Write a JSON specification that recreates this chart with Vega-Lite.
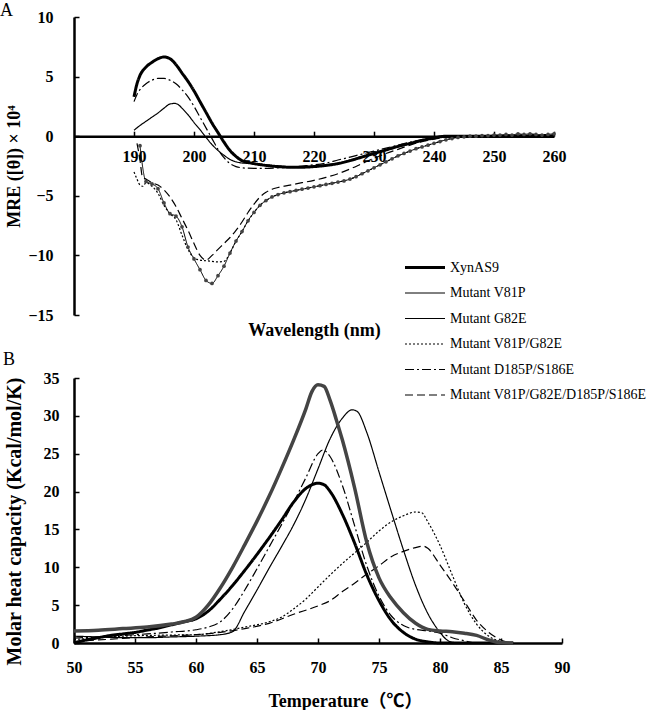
{
  "$schema": "https://vega.github.io/schema/vega-lite/v6.json",
  "padding": {"left": 0, "top": 2, "right": 0, "bottom": 0},
  "bounds": "flush",
  "spacing": 63,
  "config": {
    "view": {"stroke": null},
    "font": "Liberation Serif",
    "axis": {
      "grid": false,
      "domainColor": "black",
      "domainWidth": 2.5,
      "tickColor": "black",
      "tickWidth": 1.5,
      "tickSize": -5,
      "labelColor": "black",
      "labelFont": "Liberation Serif",
      "labelFontWeight": "bold",
      "labelFontSize": 16,
      "labelFlush": false,
      "labelOverlap": false,
      "titleColor": "black",
      "titleFont": "Liberation Serif, Noto Sans CJK SC",
      "titleFontWeight": "bold",
      "titleFontSize": 18
    },
    "title": {"font": "Liberation Serif", "fontWeight": "normal", "fontSize": 18, "color": "black", "anchor": "start", "frame": "group", "baseline": "alphabetic"}
  },
  "datasets": {
    "cd": [
      {"s":"XynAS9","x":190,"y":3.3},{"s":"XynAS9","x":190.5,"y":4.4},{"s":"XynAS9","x":191,"y":5.1},{"s":"XynAS9","x":192,"y":5.8},{"s":"XynAS9","x":193,"y":6.2},{"s":"XynAS9","x":194,"y":6.5},{"s":"XynAS9","x":195,"y":6.65},{"s":"XynAS9","x":196,"y":6.5},{"s":"XynAS9","x":197,"y":6.0},{"s":"XynAS9","x":198,"y":5.3},{"s":"XynAS9","x":199,"y":4.6},{"s":"XynAS9","x":200,"y":3.8},{"s":"XynAS9","x":201,"y":2.9},{"s":"XynAS9","x":202,"y":2.0},{"s":"XynAS9","x":203,"y":1.1},{"s":"XynAS9","x":204,"y":0.3},{"s":"XynAS9","x":205,"y":-0.5},{"s":"XynAS9","x":206,"y":-1.2},{"s":"XynAS9","x":207,"y":-1.7},{"s":"XynAS9","x":208,"y":-2.05},{"s":"XynAS9","x":209,"y":-2.2},{"s":"XynAS9","x":210,"y":-2.3},{"s":"XynAS9","x":212,"y":-2.45},{"s":"XynAS9","x":214,"y":-2.55},{"s":"XynAS9","x":216,"y":-2.6},{"s":"XynAS9","x":218,"y":-2.6},{"s":"XynAS9","x":220,"y":-2.55},{"s":"XynAS9","x":222,"y":-2.45},{"s":"XynAS9","x":224,"y":-2.3},{"s":"XynAS9","x":226,"y":-2.05},{"s":"XynAS9","x":228,"y":-1.75},{"s":"XynAS9","x":230,"y":-1.45},{"s":"XynAS9","x":232,"y":-1.15},{"s":"XynAS9","x":234,"y":-0.85},{"s":"XynAS9","x":236,"y":-0.6},{"s":"XynAS9","x":238,"y":-0.35},{"s":"XynAS9","x":240,"y":-0.15},{"s":"XynAS9","x":242,"y":0},{"s":"XynAS9","x":250,"y":0},{"s":"XynAS9","x":260,"y":0},

      {"s":"Mutant G82E","x":190,"y":0.5},{"s":"Mutant G82E","x":191,"y":0.9},{"s":"Mutant G82E","x":192,"y":1.25},{"s":"Mutant G82E","x":193,"y":1.6},{"s":"Mutant G82E","x":194,"y":1.95},{"s":"Mutant G82E","x":195,"y":2.35},{"s":"Mutant G82E","x":196,"y":2.7},{"s":"Mutant G82E","x":196.8,"y":2.75},{"s":"Mutant G82E","x":197.5,"y":2.6},{"s":"Mutant G82E","x":198,"y":2.35},{"s":"Mutant G82E","x":199,"y":1.8},{"s":"Mutant G82E","x":200,"y":1.15},{"s":"Mutant G82E","x":201,"y":0.55},{"s":"Mutant G82E","x":202,"y":-0.1},{"s":"Mutant G82E","x":203,"y":-0.7},{"s":"Mutant G82E","x":204,"y":-1.2},{"s":"Mutant G82E","x":205,"y":-1.6},{"s":"Mutant G82E","x":206,"y":-1.95},{"s":"Mutant G82E","x":207,"y":-2.15},{"s":"Mutant G82E","x":208,"y":-2.25},{"s":"Mutant G82E","x":210,"y":-2.3},{"s":"Mutant G82E","x":212,"y":-2.4},{"s":"Mutant G82E","x":214,"y":-2.5},{"s":"Mutant G82E","x":216,"y":-2.55},{"s":"Mutant G82E","x":218,"y":-2.55},{"s":"Mutant G82E","x":220,"y":-2.5},{"s":"Mutant G82E","x":222,"y":-2.4},{"s":"Mutant G82E","x":224,"y":-2.25},{"s":"Mutant G82E","x":226,"y":-2.0},{"s":"Mutant G82E","x":228,"y":-1.7},{"s":"Mutant G82E","x":230,"y":-1.45},{"s":"Mutant G82E","x":232,"y":-1.2},{"s":"Mutant G82E","x":234,"y":-0.9},{"s":"Mutant G82E","x":236,"y":-0.65},{"s":"Mutant G82E","x":238,"y":-0.35},{"s":"Mutant G82E","x":240,"y":-0.1},{"s":"Mutant G82E","x":242,"y":0},{"s":"Mutant G82E","x":250,"y":0},{"s":"Mutant G82E","x":260,"y":0},

      {"s":"Mutant D185P/S186E","x":190,"y":2.9},{"s":"Mutant D185P/S186E","x":190.5,"y":3.5},{"s":"Mutant D185P/S186E","x":191,"y":3.9},{"s":"Mutant D185P/S186E","x":192,"y":4.4},{"s":"Mutant D185P/S186E","x":193,"y":4.7},{"s":"Mutant D185P/S186E","x":194,"y":4.85},{"s":"Mutant D185P/S186E","x":195,"y":4.85},{"s":"Mutant D185P/S186E","x":196,"y":4.7},{"s":"Mutant D185P/S186E","x":197,"y":4.4},{"s":"Mutant D185P/S186E","x":198,"y":3.9},{"s":"Mutant D185P/S186E","x":199,"y":3.3},{"s":"Mutant D185P/S186E","x":200,"y":2.5},{"s":"Mutant D185P/S186E","x":201,"y":1.6},{"s":"Mutant D185P/S186E","x":202,"y":0.7},{"s":"Mutant D185P/S186E","x":203,"y":-0.2},{"s":"Mutant D185P/S186E","x":204,"y":-1.1},{"s":"Mutant D185P/S186E","x":205,"y":-1.8},{"s":"Mutant D185P/S186E","x":206,"y":-2.3},{"s":"Mutant D185P/S186E","x":207,"y":-2.55},{"s":"Mutant D185P/S186E","x":208,"y":-2.65},{"s":"Mutant D185P/S186E","x":210,"y":-2.7},{"s":"Mutant D185P/S186E","x":212,"y":-2.7},{"s":"Mutant D185P/S186E","x":214,"y":-2.65},{"s":"Mutant D185P/S186E","x":216,"y":-2.6},{"s":"Mutant D185P/S186E","x":218,"y":-2.5},{"s":"Mutant D185P/S186E","x":220,"y":-2.4},{"s":"Mutant D185P/S186E","x":222,"y":-2.25},{"s":"Mutant D185P/S186E","x":224,"y":-2.0},{"s":"Mutant D185P/S186E","x":226,"y":-1.75},{"s":"Mutant D185P/S186E","x":228,"y":-1.5},{"s":"Mutant D185P/S186E","x":230,"y":-1.25},{"s":"Mutant D185P/S186E","x":232,"y":-1.0},{"s":"Mutant D185P/S186E","x":234,"y":-0.75},{"s":"Mutant D185P/S186E","x":236,"y":-0.5},{"s":"Mutant D185P/S186E","x":238,"y":-0.3},{"s":"Mutant D185P/S186E","x":240,"y":-0.1},{"s":"Mutant D185P/S186E","x":242,"y":0},{"s":"Mutant D185P/S186E","x":250,"y":0},{"s":"Mutant D185P/S186E","x":260,"y":0},

      {"s":"Mutant V81P","x":191,"y":-0.8},{"s":"Mutant V81P","x":192,"y":-3.8},{"s":"Mutant V81P","x":193,"y":-4.0},{"s":"Mutant V81P","x":194,"y":-4.4},{"s":"Mutant V81P","x":195,"y":-5.6},{"s":"Mutant V81P","x":196,"y":-6.5},{"s":"Mutant V81P","x":197,"y":-6.7},{"s":"Mutant V81P","x":198,"y":-7.6},{"s":"Mutant V81P","x":199,"y":-9.3},{"s":"Mutant V81P","x":200,"y":-10.3},{"s":"Mutant V81P","x":201,"y":-11.2},{"s":"Mutant V81P","x":202,"y":-12.1},{"s":"Mutant V81P","x":203,"y":-12.35},{"s":"Mutant V81P","x":204,"y":-11.7},{"s":"Mutant V81P","x":205,"y":-10.9},{"s":"Mutant V81P","x":206,"y":-9.8},{"s":"Mutant V81P","x":207,"y":-8.8},{"s":"Mutant V81P","x":208,"y":-8.0},{"s":"Mutant V81P","x":209,"y":-7.1},{"s":"Mutant V81P","x":210,"y":-6.4},{"s":"Mutant V81P","x":211,"y":-5.8},{"s":"Mutant V81P","x":212,"y":-5.4},{"s":"Mutant V81P","x":213,"y":-5.1},{"s":"Mutant V81P","x":214,"y":-4.9},{"s":"Mutant V81P","x":215,"y":-4.75},{"s":"Mutant V81P","x":216,"y":-4.65},{"s":"Mutant V81P","x":217,"y":-4.55},{"s":"Mutant V81P","x":218,"y":-4.45},{"s":"Mutant V81P","x":219,"y":-4.35},{"s":"Mutant V81P","x":220,"y":-4.25},{"s":"Mutant V81P","x":221,"y":-4.15},{"s":"Mutant V81P","x":222,"y":-4.05},{"s":"Mutant V81P","x":223,"y":-3.95},{"s":"Mutant V81P","x":224,"y":-3.85},{"s":"Mutant V81P","x":225,"y":-3.75},{"s":"Mutant V81P","x":226,"y":-3.6},{"s":"Mutant V81P","x":227,"y":-3.4},{"s":"Mutant V81P","x":228,"y":-3.15},{"s":"Mutant V81P","x":229,"y":-2.9},{"s":"Mutant V81P","x":230,"y":-2.65},{"s":"Mutant V81P","x":231,"y":-2.4},{"s":"Mutant V81P","x":232,"y":-2.15},{"s":"Mutant V81P","x":233,"y":-1.9},{"s":"Mutant V81P","x":234,"y":-1.65},{"s":"Mutant V81P","x":235,"y":-1.45},{"s":"Mutant V81P","x":236,"y":-1.25},{"s":"Mutant V81P","x":237,"y":-1.05},{"s":"Mutant V81P","x":238,"y":-0.9},{"s":"Mutant V81P","x":239,"y":-0.75},{"s":"Mutant V81P","x":240,"y":-0.6},{"s":"Mutant V81P","x":241,"y":-0.45},{"s":"Mutant V81P","x":242,"y":-0.3},{"s":"Mutant V81P","x":243,"y":-0.2},{"s":"Mutant V81P","x":244,"y":-0.1},{"s":"Mutant V81P","x":245,"y":-0.05},{"s":"Mutant V81P","x":246,"y":0},{"s":"Mutant V81P","x":247,"y":0},{"s":"Mutant V81P","x":248,"y":0.05},{"s":"Mutant V81P","x":249,"y":0.05},{"s":"Mutant V81P","x":250,"y":0.1},{"s":"Mutant V81P","x":251,"y":0.1},{"s":"Mutant V81P","x":252,"y":0.15},{"s":"Mutant V81P","x":253,"y":0.1},{"s":"Mutant V81P","x":254,"y":0.2},{"s":"Mutant V81P","x":255,"y":0.15},{"s":"Mutant V81P","x":256,"y":0.2},{"s":"Mutant V81P","x":257,"y":0.15},{"s":"Mutant V81P","x":258,"y":0.1},{"s":"Mutant V81P","x":259,"y":0.15},{"s":"Mutant V81P","x":260,"y":0.2},

      {"s":"Mutant V81P/G82E","x":190,"y":-3.0},{"s":"Mutant V81P/G82E","x":190.5,"y":-3.6},{"s":"Mutant V81P/G82E","x":191,"y":-4.1},{"s":"Mutant V81P/G82E","x":191.5,"y":-4.2},{"s":"Mutant V81P/G82E","x":192,"y":-3.9},{"s":"Mutant V81P/G82E","x":193,"y":-4.2},{"s":"Mutant V81P/G82E","x":194,"y":-4.8},{"s":"Mutant V81P/G82E","x":195,"y":-5.8},{"s":"Mutant V81P/G82E","x":196,"y":-6.5},{"s":"Mutant V81P/G82E","x":197,"y":-7.0},{"s":"Mutant V81P/G82E","x":198,"y":-8.3},{"s":"Mutant V81P/G82E","x":199,"y":-9.5},{"s":"Mutant V81P/G82E","x":200,"y":-10.2},{"s":"Mutant V81P/G82E","x":201,"y":-10.4},{"s":"Mutant V81P/G82E","x":202,"y":-10.45},{"s":"Mutant V81P/G82E","x":203,"y":-10.5},{"s":"Mutant V81P/G82E","x":204,"y":-10.55},{"s":"Mutant V81P/G82E","x":205,"y":-10.5},{"s":"Mutant V81P/G82E","x":206,"y":-9.8},{"s":"Mutant V81P/G82E","x":207,"y":-8.8},{"s":"Mutant V81P/G82E","x":208,"y":-8.0},{"s":"Mutant V81P/G82E","x":209,"y":-7.1},{"s":"Mutant V81P/G82E","x":210,"y":-6.4},{"s":"Mutant V81P/G82E","x":211,"y":-5.8},{"s":"Mutant V81P/G82E","x":212,"y":-5.4},{"s":"Mutant V81P/G82E","x":213,"y":-5.1},{"s":"Mutant V81P/G82E","x":214,"y":-4.9},{"s":"Mutant V81P/G82E","x":216,"y":-4.65},{"s":"Mutant V81P/G82E","x":218,"y":-4.45},{"s":"Mutant V81P/G82E","x":220,"y":-4.25},{"s":"Mutant V81P/G82E","x":222,"y":-4.05},{"s":"Mutant V81P/G82E","x":224,"y":-3.85},{"s":"Mutant V81P/G82E","x":226,"y":-3.6},{"s":"Mutant V81P/G82E","x":228,"y":-3.15},{"s":"Mutant V81P/G82E","x":230,"y":-2.65},{"s":"Mutant V81P/G82E","x":232,"y":-2.15},{"s":"Mutant V81P/G82E","x":234,"y":-1.65},{"s":"Mutant V81P/G82E","x":236,"y":-1.25},{"s":"Mutant V81P/G82E","x":238,"y":-0.9},{"s":"Mutant V81P/G82E","x":240,"y":-0.6},{"s":"Mutant V81P/G82E","x":242,"y":-0.3},{"s":"Mutant V81P/G82E","x":244,"y":-0.1},{"s":"Mutant V81P/G82E","x":246,"y":0},{"s":"Mutant V81P/G82E","x":250,"y":0.05},{"s":"Mutant V81P/G82E","x":255,"y":0.1},{"s":"Mutant V81P/G82E","x":260,"y":0.15},

      {"s":"Mutant V81P/G82E/D185P/S186E","x":190.5,"y":-0.6},{"s":"Mutant V81P/G82E/D185P/S186E","x":191,"y":-2.0},{"s":"Mutant V81P/G82E/D185P/S186E","x":191.4,"y":-3.4},{"s":"Mutant V81P/G82E/D185P/S186E","x":192,"y":-3.6},{"s":"Mutant V81P/G82E/D185P/S186E","x":193,"y":-3.9},{"s":"Mutant V81P/G82E/D185P/S186E","x":194,"y":-4.1},{"s":"Mutant V81P/G82E/D185P/S186E","x":195,"y":-4.5},{"s":"Mutant V81P/G82E/D185P/S186E","x":196,"y":-5.1},{"s":"Mutant V81P/G82E/D185P/S186E","x":197,"y":-5.9},{"s":"Mutant V81P/G82E/D185P/S186E","x":198,"y":-6.9},{"s":"Mutant V81P/G82E/D185P/S186E","x":199,"y":-7.9},{"s":"Mutant V81P/G82E/D185P/S186E","x":200,"y":-9.0},{"s":"Mutant V81P/G82E/D185P/S186E","x":201,"y":-10.0},{"s":"Mutant V81P/G82E/D185P/S186E","x":202,"y":-10.4},{"s":"Mutant V81P/G82E/D185P/S186E","x":203,"y":-10.0},{"s":"Mutant V81P/G82E/D185P/S186E","x":204,"y":-9.5},{"s":"Mutant V81P/G82E/D185P/S186E","x":205,"y":-9.0},{"s":"Mutant V81P/G82E/D185P/S186E","x":206,"y":-8.5},{"s":"Mutant V81P/G82E/D185P/S186E","x":207,"y":-7.9},{"s":"Mutant V81P/G82E/D185P/S186E","x":208,"y":-7.2},{"s":"Mutant V81P/G82E/D185P/S186E","x":209,"y":-6.4},{"s":"Mutant V81P/G82E/D185P/S186E","x":210,"y":-5.7},{"s":"Mutant V81P/G82E/D185P/S186E","x":211,"y":-5.1},{"s":"Mutant V81P/G82E/D185P/S186E","x":212,"y":-4.7},{"s":"Mutant V81P/G82E/D185P/S186E","x":213,"y":-4.45},{"s":"Mutant V81P/G82E/D185P/S186E","x":214,"y":-4.3},{"s":"Mutant V81P/G82E/D185P/S186E","x":216,"y":-4.1},{"s":"Mutant V81P/G82E/D185P/S186E","x":218,"y":-3.9},{"s":"Mutant V81P/G82E/D185P/S186E","x":220,"y":-3.7},{"s":"Mutant V81P/G82E/D185P/S186E","x":222,"y":-3.45},{"s":"Mutant V81P/G82E/D185P/S186E","x":224,"y":-3.15},{"s":"Mutant V81P/G82E/D185P/S186E","x":226,"y":-2.75},{"s":"Mutant V81P/G82E/D185P/S186E","x":228,"y":-2.3},{"s":"Mutant V81P/G82E/D185P/S186E","x":230,"y":-1.85},{"s":"Mutant V81P/G82E/D185P/S186E","x":232,"y":-1.45},{"s":"Mutant V81P/G82E/D185P/S186E","x":234,"y":-1.1},{"s":"Mutant V81P/G82E/D185P/S186E","x":236,"y":-0.75},{"s":"Mutant V81P/G82E/D185P/S186E","x":238,"y":-0.45},{"s":"Mutant V81P/G82E/D185P/S186E","x":240,"y":-0.25},{"s":"Mutant V81P/G82E/D185P/S186E","x":242,"y":-0.1},{"s":"Mutant V81P/G82E/D185P/S186E","x":244,"y":0},{"s":"Mutant V81P/G82E/D185P/S186E","x":250,"y":0.05},{"s":"Mutant V81P/G82E/D185P/S186E","x":260,"y":0.1}
    ],
    "dsc": [
      {"s":"XynAS9","x":50,"y":0},{"s":"XynAS9","x":51,"y":0.4},{"s":"XynAS9","x":52,"y":0.7},{"s":"XynAS9","x":53,"y":1.0},{"s":"XynAS9","x":54,"y":1.2},{"s":"XynAS9","x":55,"y":1.4},{"s":"XynAS9","x":56,"y":1.7},{"s":"XynAS9","x":57,"y":2.0},{"s":"XynAS9","x":58,"y":2.4},{"s":"XynAS9","x":59,"y":2.8},{"s":"XynAS9","x":60,"y":3.2},{"s":"XynAS9","x":61,"y":4.2},{"s":"XynAS9","x":62,"y":5.8},{"s":"XynAS9","x":63,"y":7.6},{"s":"XynAS9","x":64,"y":9.6},{"s":"XynAS9","x":65,"y":11.7},{"s":"XynAS9","x":66,"y":13.9},{"s":"XynAS9","x":67,"y":16.2},{"s":"XynAS9","x":68,"y":18.6},{"s":"XynAS9","x":69,"y":20.4},{"s":"XynAS9","x":70,"y":21.1},{"s":"XynAS9","x":70.5,"y":20.9},{"s":"XynAS9","x":71,"y":20.0},{"s":"XynAS9","x":72,"y":17.0},{"s":"XynAS9","x":73,"y":13.2},{"s":"XynAS9","x":74,"y":9.0},{"s":"XynAS9","x":75,"y":5.6},{"s":"XynAS9","x":76,"y":3.0},{"s":"XynAS9","x":77,"y":1.4},{"s":"XynAS9","x":78,"y":0.5},{"s":"XynAS9","x":79,"y":0.15},{"s":"XynAS9","x":80,"y":0},{"s":"XynAS9","x":86,"y":0},

      {"s":"Mutant V81P","x":50,"y":1.6},{"s":"Mutant V81P","x":52,"y":1.7},{"s":"Mutant V81P","x":54,"y":1.9},{"s":"Mutant V81P","x":56,"y":2.1},{"s":"Mutant V81P","x":58,"y":2.5},{"s":"Mutant V81P","x":59,"y":2.8},{"s":"Mutant V81P","x":60,"y":3.4},{"s":"Mutant V81P","x":61,"y":5.0},{"s":"Mutant V81P","x":62,"y":7.3},{"s":"Mutant V81P","x":63,"y":10.0},{"s":"Mutant V81P","x":64,"y":13.0},{"s":"Mutant V81P","x":65,"y":16.1},{"s":"Mutant V81P","x":66,"y":19.4},{"s":"Mutant V81P","x":67,"y":23.0},{"s":"Mutant V81P","x":68,"y":26.8},{"s":"Mutant V81P","x":69,"y":30.9},{"s":"Mutant V81P","x":69.5,"y":33.2},{"s":"Mutant V81P","x":70,"y":34.1},{"s":"Mutant V81P","x":70.5,"y":33.9},{"s":"Mutant V81P","x":71,"y":32.0},{"s":"Mutant V81P","x":71.5,"y":29.5},{"s":"Mutant V81P","x":72,"y":26.8},{"s":"Mutant V81P","x":73,"y":20.5},{"s":"Mutant V81P","x":74,"y":13.3},{"s":"Mutant V81P","x":75,"y":8.6},{"s":"Mutant V81P","x":76,"y":5.9},{"s":"Mutant V81P","x":77,"y":4.0},{"s":"Mutant V81P","x":78,"y":2.6},{"s":"Mutant V81P","x":79,"y":1.8},{"s":"Mutant V81P","x":80,"y":1.6},{"s":"Mutant V81P","x":81,"y":1.5},{"s":"Mutant V81P","x":82,"y":1.3},{"s":"Mutant V81P","x":83,"y":1.0},{"s":"Mutant V81P","x":84,"y":0.4},{"s":"Mutant V81P","x":85,"y":0.05},{"s":"Mutant V81P","x":86,"y":0},

      {"s":"Mutant G82E","x":50,"y":0.9},{"s":"Mutant G82E","x":52,"y":0.8},{"s":"Mutant G82E","x":54,"y":0.7},{"s":"Mutant G82E","x":56,"y":0.7},{"s":"Mutant G82E","x":58,"y":0.8},{"s":"Mutant G82E","x":60,"y":0.9},{"s":"Mutant G82E","x":62,"y":1.1},{"s":"Mutant G82E","x":63,"y":1.5},{"s":"Mutant G82E","x":64,"y":4.2},{"s":"Mutant G82E","x":65,"y":7.0},{"s":"Mutant G82E","x":66,"y":9.9},{"s":"Mutant G82E","x":67,"y":12.7},{"s":"Mutant G82E","x":68,"y":15.6},{"s":"Mutant G82E","x":69,"y":19.0},{"s":"Mutant G82E","x":70,"y":23.0},{"s":"Mutant G82E","x":71,"y":27.0},{"s":"Mutant G82E","x":72,"y":29.7},{"s":"Mutant G82E","x":72.8,"y":30.8},{"s":"Mutant G82E","x":73.2,"y":30.6},{"s":"Mutant G82E","x":74,"y":27.8},{"s":"Mutant G82E","x":75,"y":22.6},{"s":"Mutant G82E","x":76,"y":17.4},{"s":"Mutant G82E","x":77,"y":12.3},{"s":"Mutant G82E","x":78,"y":7.6},{"s":"Mutant G82E","x":79,"y":3.9},{"s":"Mutant G82E","x":80,"y":1.4},{"s":"Mutant G82E","x":80.5,"y":0.5},{"s":"Mutant G82E","x":81,"y":0.1},{"s":"Mutant G82E","x":82,"y":0},{"s":"Mutant G82E","x":86,"y":0},

      {"s":"Mutant V81P/G82E","x":50,"y":0.45},{"s":"Mutant V81P/G82E","x":52,"y":0.7},{"s":"Mutant V81P/G82E","x":54,"y":0.9},{"s":"Mutant V81P/G82E","x":56,"y":1.0},{"s":"Mutant V81P/G82E","x":58,"y":1.05},{"s":"Mutant V81P/G82E","x":60,"y":1.1},{"s":"Mutant V81P/G82E","x":62,"y":1.5},{"s":"Mutant V81P/G82E","x":64,"y":2.1},{"s":"Mutant V81P/G82E","x":66,"y":2.8},{"s":"Mutant V81P/G82E","x":67,"y":3.4},{"s":"Mutant V81P/G82E","x":68,"y":4.5},{"s":"Mutant V81P/G82E","x":69,"y":5.8},{"s":"Mutant V81P/G82E","x":70,"y":7.4},{"s":"Mutant V81P/G82E","x":71,"y":9.0},{"s":"Mutant V81P/G82E","x":72,"y":10.5},{"s":"Mutant V81P/G82E","x":73,"y":11.9},{"s":"Mutant V81P/G82E","x":74,"y":13.3},{"s":"Mutant V81P/G82E","x":75,"y":14.8},{"s":"Mutant V81P/G82E","x":76,"y":16.0},{"s":"Mutant V81P/G82E","x":77,"y":16.8},{"s":"Mutant V81P/G82E","x":78,"y":17.3},{"s":"Mutant V81P/G82E","x":78.5,"y":17.2},{"s":"Mutant V81P/G82E","x":79,"y":16.0},{"s":"Mutant V81P/G82E","x":80,"y":12.9},{"s":"Mutant V81P/G82E","x":81,"y":9.0},{"s":"Mutant V81P/G82E","x":82,"y":5.2},{"s":"Mutant V81P/G82E","x":83,"y":2.5},{"s":"Mutant V81P/G82E","x":84,"y":0.9},{"s":"Mutant V81P/G82E","x":85,"y":0.2},{"s":"Mutant V81P/G82E","x":86,"y":0},

      {"s":"Mutant D185P/S186E","x":50,"y":0.65},{"s":"Mutant D185P/S186E","x":52,"y":0.8},{"s":"Mutant D185P/S186E","x":54,"y":1.0},{"s":"Mutant D185P/S186E","x":56,"y":1.2},{"s":"Mutant D185P/S186E","x":58,"y":1.45},{"s":"Mutant D185P/S186E","x":60,"y":1.75},{"s":"Mutant D185P/S186E","x":61,"y":2.1},{"s":"Mutant D185P/S186E","x":62,"y":2.8},{"s":"Mutant D185P/S186E","x":63,"y":4.5},{"s":"Mutant D185P/S186E","x":64,"y":7.0},{"s":"Mutant D185P/S186E","x":65,"y":9.8},{"s":"Mutant D185P/S186E","x":66,"y":12.7},{"s":"Mutant D185P/S186E","x":67,"y":15.6},{"s":"Mutant D185P/S186E","x":68,"y":18.6},{"s":"Mutant D185P/S186E","x":69,"y":21.8},{"s":"Mutant D185P/S186E","x":70,"y":25.0},{"s":"Mutant D185P/S186E","x":70.4,"y":25.5},{"s":"Mutant D185P/S186E","x":71,"y":24.6},{"s":"Mutant D185P/S186E","x":72,"y":20.8},{"s":"Mutant D185P/S186E","x":73,"y":15.5},{"s":"Mutant D185P/S186E","x":74,"y":10.2},{"s":"Mutant D185P/S186E","x":75,"y":6.2},{"s":"Mutant D185P/S186E","x":76,"y":3.6},{"s":"Mutant D185P/S186E","x":77,"y":2.3},{"s":"Mutant D185P/S186E","x":78,"y":1.8},{"s":"Mutant D185P/S186E","x":79,"y":1.6},{"s":"Mutant D185P/S186E","x":80,"y":1.3},{"s":"Mutant D185P/S186E","x":81,"y":0.7},{"s":"Mutant D185P/S186E","x":82,"y":0.3},{"s":"Mutant D185P/S186E","x":83,"y":0},{"s":"Mutant D185P/S186E","x":86,"y":0},

      {"s":"Mutant V81P/G82E/D185P/S186E","x":50,"y":0.2},{"s":"Mutant V81P/G82E/D185P/S186E","x":52,"y":0.4},{"s":"Mutant V81P/G82E/D185P/S186E","x":54,"y":0.6},{"s":"Mutant V81P/G82E/D185P/S186E","x":56,"y":0.8},{"s":"Mutant V81P/G82E/D185P/S186E","x":58,"y":0.95},{"s":"Mutant V81P/G82E/D185P/S186E","x":60,"y":1.1},{"s":"Mutant V81P/G82E/D185P/S186E","x":62,"y":1.4},{"s":"Mutant V81P/G82E/D185P/S186E","x":64,"y":1.9},{"s":"Mutant V81P/G82E/D185P/S186E","x":66,"y":2.6},{"s":"Mutant V81P/G82E/D185P/S186E","x":68,"y":3.8},{"s":"Mutant V81P/G82E/D185P/S186E","x":70,"y":4.9},{"s":"Mutant V81P/G82E/D185P/S186E","x":71,"y":5.6},{"s":"Mutant V81P/G82E/D185P/S186E","x":72,"y":6.8},{"s":"Mutant V81P/G82E/D185P/S186E","x":73,"y":7.9},{"s":"Mutant V81P/G82E/D185P/S186E","x":74,"y":9.1},{"s":"Mutant V81P/G82E/D185P/S186E","x":75,"y":10.2},{"s":"Mutant V81P/G82E/D185P/S186E","x":76,"y":11.4},{"s":"Mutant V81P/G82E/D185P/S186E","x":77,"y":12.1},{"s":"Mutant V81P/G82E/D185P/S186E","x":78,"y":12.6},{"s":"Mutant V81P/G82E/D185P/S186E","x":78.6,"y":12.8},{"s":"Mutant V81P/G82E/D185P/S186E","x":79,"y":12.5},{"s":"Mutant V81P/G82E/D185P/S186E","x":80,"y":10.3},{"s":"Mutant V81P/G82E/D185P/S186E","x":81,"y":8.0},{"s":"Mutant V81P/G82E/D185P/S186E","x":82,"y":5.5},{"s":"Mutant V81P/G82E/D185P/S186E","x":83,"y":3.0},{"s":"Mutant V81P/G82E/D185P/S186E","x":84,"y":1.4},{"s":"Mutant V81P/G82E/D185P/S186E","x":85,"y":0.4},{"s":"Mutant V81P/G82E/D185P/S186E","x":86,"y":0}
    ]
  },
  "resolve": {
    "scale": {"strokeDash": "independent", "strokeWidth": "independent"},
    "legend": {"strokeDash": "independent", "strokeWidth": "independent"}
  },
  "vconcat": [
    {
      "width": 480,
      "height": 298,
      "title": {"text": "A", "dx": -74, "offset": 3, "dy": 14},
      "data": {"name": "cd"},
      "encoding": {
        "x": {"field": "x", "type": "quantitative", "scale": {"domain": [180, 260], "nice": false, "zero": false},
          "axis": {"values": [190, 200, 210, 220, 230, 240, 250, 260], "offset": -178.8, "labelPadding": 17, "title": "Wavelength (nm)", "titleY": 199, "titleBaseline": "alphabetic"}},
        "y": {"field": "y", "type": "quantitative", "scale": {"domain": [-15, 10], "nice": false, "zero": false},
          "axis": {"values": [-15, -10, -5, 0, 5, 10], "labelPadding": 26, "title": "MRE ([θ]) × 10⁴", "titleX": -60, "titleBaseline": "middle"}}
      },
      "layer": [
        {
          "mark": {"type": "line", "color": "black", "interpolate": "monotone", "clip": false},
          "encoding": {
            "strokeDash": {"field": "s", "type": "nominal",
              "scale": {"domain": ["XynAS9", "Mutant V81P", "Mutant G82E", "Mutant V81P/G82E", "Mutant D185P/S186E", "Mutant V81P/G82E/D185P/S186E"],
                "range": [[1, 0], [1, 0], [1, 0], [2, 2], [9, 3, 2, 3], [8, 4]]},
              "legend": {"orient": "none", "legendX": 329, "legendY": 243, "title": null, "symbolType": "M-4,0H4", "symbolSize": 100, "symbolOffset": 15, "labelOffset": 18, "rowPadding": 10.5, "clipHeight": 15, "labelFont": "Liberation Serif", "labelFontSize": 14, "labelColor": "black", "symbolStrokeColor": "black", "symbolFillColor": "transparent", "labelLimit": 400}},
            "strokeWidth": {"field": "s", "type": "nominal",
              "scale": {"type": "ordinal", "domain": ["XynAS9", "Mutant V81P", "Mutant G82E", "Mutant V81P/G82E", "Mutant D185P/S186E", "Mutant V81P/G82E/D185P/S186E"],
                "range": [3, 1, 1.2, 1.2, 1.2, 1.2]},
              "legend": {"orient": "none", "legendX": 329, "legendY": 243, "title": null, "symbolType": "M-4,0H4", "symbolSize": 100, "symbolOffset": 15, "labelOffset": 18, "rowPadding": 10.5, "clipHeight": 15, "labelFont": "Liberation Serif", "labelFontSize": 14, "labelColor": "black", "symbolStrokeColor": "black", "symbolFillColor": "transparent", "labelLimit": 400}}
          }
        },
        {
          "transform": [{"filter": "datum.s === 'Mutant V81P'"}],
          "mark": {"type": "point", "filled": true, "size": 14, "color": "#444", "opacity": 1}
        }
      ]
    },
    {
      "width": 488,
      "height": 265,
      "title": {"text": "B", "dx": -71, "offset": 1},
      "data": {"name": "dsc"},
      "encoding": {
        "x": {"field": "x", "type": "quantitative", "scale": {"domain": [50, 90], "nice": false, "zero": false},
          "axis": {"values": [50, 55, 60, 65, 70, 75, 80, 85, 90], "labelPadding": 21, "title": "Temperature（℃）", "titleX": 271, "titleY": 63, "titleBaseline": "alphabetic"}},
        "y": {"field": "y", "type": "quantitative", "scale": {"domain": [0, 35], "nice": false, "zero": false},
          "axis": {"values": [0, 5, 10, 15, 20, 25, 30, 35], "labelPadding": 20, "title": "Molar heat capacity (Kcal/mol/K)", "titleFontSize": 20, "titleX": -60, "titleY": 143, "titleBaseline": "middle"}}
      },
      "layer": [
        {
          "transform": [{"filter": "datum.s !== 'Mutant V81P'"}],
          "mark": {"type": "line", "color": "black", "interpolate": "monotone", "clip": false},
          "encoding": {
            "strokeDash": {"field": "s", "type": "nominal",
              "scale": {"domain": ["XynAS9", "Mutant V81P", "Mutant G82E", "Mutant V81P/G82E", "Mutant D185P/S186E", "Mutant V81P/G82E/D185P/S186E"],
                "range": [[1, 0], [1, 0], [1, 0], [2, 2], [9, 3, 2, 3], [8, 4]]},
              "legend": null},
            "strokeWidth": {"field": "s", "type": "nominal",
              "scale": {"type": "ordinal", "domain": ["XynAS9", "Mutant V81P", "Mutant G82E", "Mutant V81P/G82E", "Mutant D185P/S186E", "Mutant V81P/G82E/D185P/S186E"],
                "range": [3, 3.5, 1.2, 1.2, 1.2, 1.2]},
              "legend": null}
          }
        },
        {
          "transform": [{"filter": "datum.s === 'Mutant V81P'"}],
          "mark": {"type": "line", "color": "#444", "strokeWidth": 3.5, "interpolate": "monotone"}
        }
      ]
    }
  ]
}
